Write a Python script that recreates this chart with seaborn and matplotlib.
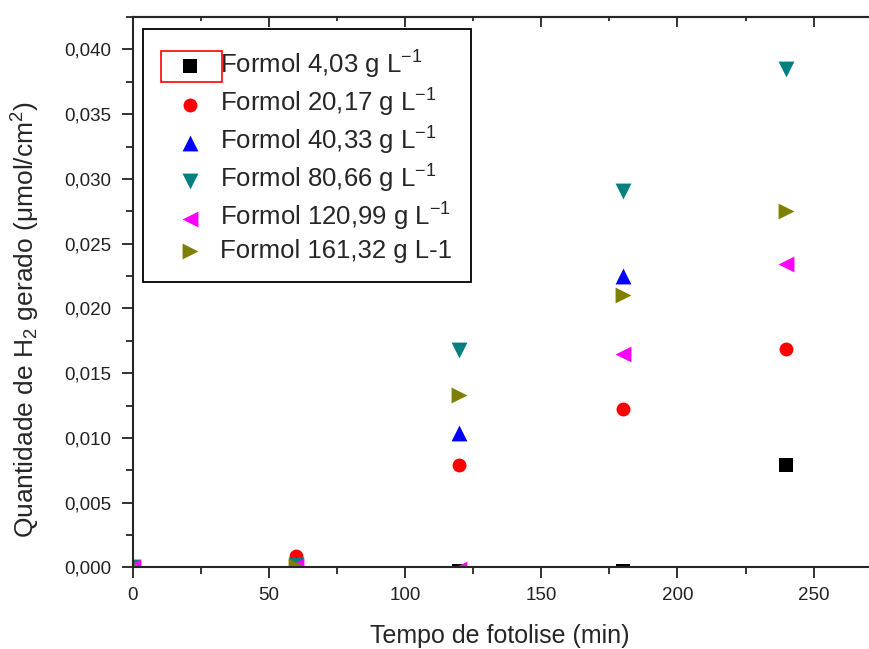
import numpy as np
import matplotlib
matplotlib.use("Agg")
import matplotlib.pyplot as plt
import matplotlib.patches as mpatches
from matplotlib.ticker import MultipleLocator, FuncFormatter
import seaborn as sns

# dados (tempo em min, H2 em umol/cm2)
tempo = [0, 60, 120, 180, 240]
formol_403 = [0.0, 0.0, -0.0003, -0.0003, 0.0079]
formol_2017 = [0.0, 0.0009, 0.0079, 0.0122, 0.0169]
formol_4033 = [0.0, 0.0003, 0.0104, 0.0225, np.nan]
formol_8066 = [0.0, 0.0002, 0.0168, 0.0291, 0.0385]
formol_12099 = [0.0, 0.0001, -0.0001, 0.0165, 0.0234]
formol_16132 = [0.0, 0.0001, 0.0133, 0.0210, 0.0275]

labels = [
    "Formol 4,03 g L$^{-1}$",
    "Formol 20,17 g L$^{-1}$",
    "Formol 40,33 g L$^{-1}$",
    "Formol 80,66 g L$^{-1}$",
    "Formol 120,99 g L$^{-1}$",
    "Formol 161,32 g L-1",
]

#%%
sns.set_style("ticks")
plt.rcParams["font.family"] = ["Liberation Sans", "DejaVu Sans"]
plt.rcParams["mathtext.fontset"] = "custom"
plt.rcParams["mathtext.rm"] = "Liberation Sans"
plt.rcParams["mathtext.it"] = "Liberation Sans:italic"
plt.rcParams["mathtext.bf"] = "Liberation Sans:bold"

series = [formol_403, formol_2017, formol_4033, formol_8066, formol_12099, formol_16132]
markers = ["s", "o", "^", "v", "<", ">"]
colors = ["#000000", "#ff0000", "#0000ff", "#008080", "#ff00ff", "#808000"]
sizes = [95, 100, 130, 130, 130, 130]

fig = plt.figure(figsize=(8.7, 6.49), dpi=100)
ax = fig.add_axes([0.1523, 0.1256, 0.877, 0.8482])

for vals, m, c, s, lab in zip(series, markers, colors, sizes, labels):
    sns.scatterplot(x=tempo, y=vals, marker=m, color=c, s=s, linewidth=0,
                    label=lab, ax=ax)

ax.set_xlim(0, 280)
ax.set_ylim(0, 0.0425)
ax.xaxis.set_major_locator(MultipleLocator(50))
ax.xaxis.set_minor_locator(MultipleLocator(25))
ax.yaxis.set_major_locator(MultipleLocator(0.005))
ax.yaxis.set_minor_locator(MultipleLocator(0.0025))
ax.yaxis.set_major_formatter(FuncFormatter(lambda v, p: f"{v:.3f}".replace(".", ",")))
ax.xaxis.set_major_formatter(FuncFormatter(lambda v, p: f"{v:.0f}"))

for sp in ax.spines.values():
    sp.set_linewidth(1.5)
ax.spines["right"].set_visible(False)
ax.tick_params(which="major", direction="out", length=8, width=1.3,
               labelsize=13.5, colors="#222222")
ax.tick_params(axis="y", which="major", pad=7)
ax.tick_params(axis="x", which="major", pad=6)
ax.tick_params(which="minor", direction="out", length=5, width=1.3)

top = ax.secondary_xaxis("top")
top.xaxis.set_major_locator(MultipleLocator(50))
top.xaxis.set_minor_locator(MultipleLocator(25))
top.tick_params(which="major", direction="in", length=7, width=1.3, labeltop=False)
top.tick_params(which="minor", direction="in", length=3, width=1.3)
top.spines["top"].set_linewidth(1.5)

ax.set_xlabel("Tempo de fotolise (min)", fontsize=18, va="top")
ax.set_ylabel("Quantidade de H$_2$ gerado (\u03bcmol/cm$^2$)", fontsize=19)
ax.xaxis.set_label_coords(0.481, -0.102)
ax.yaxis.set_label_coords(-0.118, 0.45)

leg = ax.legend(loc="upper left", bbox_to_anchor=(0.0134, 0.978), fontsize=18.5,
                frameon=True, fancybox=False, edgecolor="black", framealpha=1,
                borderpad=0.75, handlelength=2.2, handletextpad=0.05,
                labelspacing=0.23, borderaxespad=0)
leg.get_frame().set_linewidth(1.3)

# caixa vermelha de selecao em volta do primeiro simbolo
fig.add_artist(mpatches.Rectangle((160.7 / 870, 1 - 81.7 / 649), 61 / 870, 30.7 / 649,
                                  transform=fig.transFigure, fill=False,
                                  edgecolor="red", linewidth=1.2))

plt.savefig("out.png", dpi=100, facecolor="w")
